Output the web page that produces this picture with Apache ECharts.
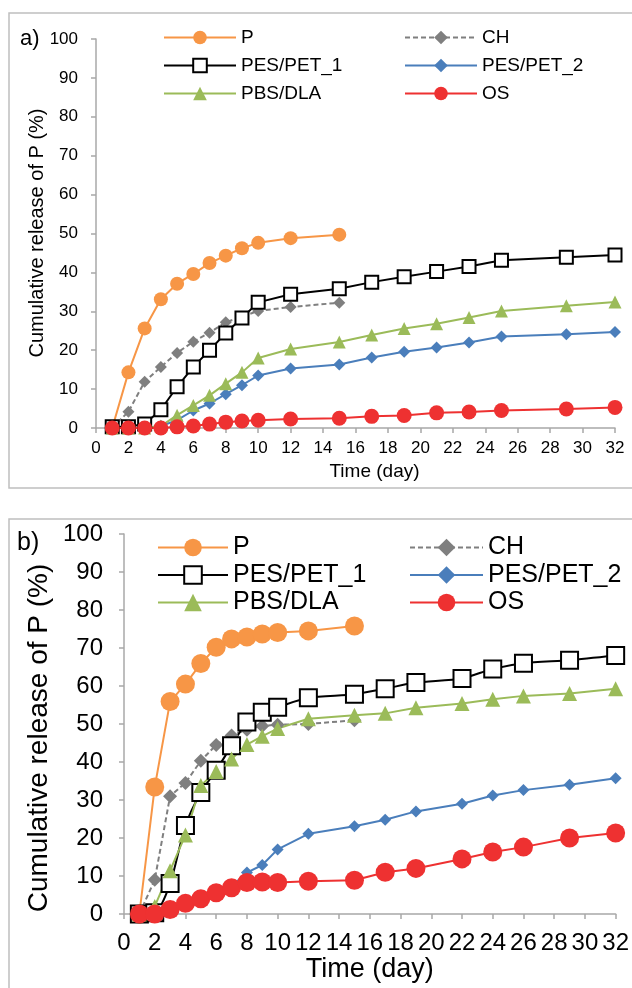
<!DOCTYPE html>
<html>
<head>
<meta charset="utf-8">
<script src="https://cdn.jsdelivr.net/npm/echarts@6/dist/echarts.min.js"></script>
<style>
html, body { margin: 0; padding: 0; background: #fff; }
#chart { width: 632px; height: 988px; }
</style>
</head>
<body>
<div id="chart"></div>
<script>
// sampling days
var daysShort = [1, 2, 3, 4, 5, 6, 7, 8, 9, 10, 12, 15];
var daysLongA = [1, 2, 3, 4, 5, 6, 7, 8, 9, 10, 12, 15, 17, 19, 21, 23, 25, 29, 32];
var daysLongB = [1, 2, 3, 4, 5, 6, 7, 8, 9, 10, 12, 15, 17, 19, 22, 24, 26, 29, 32];
var daysPes2B = [7, 8, 9, 10, 12, 15, 17, 19, 22, 24, 26, 29, 32];

// a) cumulative release (%)
var aP = [0, 14.3, 25.6, 33.1, 37.1, 39.6, 42.4, 44.3, 46.2, 47.6, 48.8, 49.7];
var aCH = [0, 4.2, 11.9, 15.7, 19.3, 22.2, 24.5, 27.2, 28.6, 30.1, 31.1, 32.2];
var aPES1 = [0.3, 0.3, 1.0, 4.7, 10.6, 15.7, 20.0, 24.4, 28.3, 32.3, 34.4, 35.8, 37.5, 38.9, 40.2, 41.5, 43.1, 43.9, 44.5];
var aPES2 = [0, 0, 0, 0.5, 2.0, 4.5, 6.3, 8.7, 11.0, 13.5, 15.3, 16.3, 18.1, 19.6, 20.7, 22.0, 23.5, 24.1, 24.7];
var aPBS = [0, 0, 0, 0.5, 3.3, 5.8, 8.4, 11.4, 14.3, 18.0, 20.3, 22.1, 23.9, 25.6, 26.8, 28.4, 30.1, 31.4, 32.4];
var aOS = [0, 0, 0, 0, 0.3, 0.5, 1.0, 1.5, 1.8, 2.0, 2.3, 2.5, 3.0, 3.2, 3.9, 4.1, 4.5, 4.9, 5.3];

// b) cumulative release (%)
var bP = [0, 33.4, 55.9, 60.5, 65.9, 70.2, 72.4, 72.9, 73.7, 74.1, 74.5, 75.8];
var bCH = [0, 9.0, 31.0, 34.5, 40.3, 44.5, 47.0, 48.5, 49.5, 49.8, 50.0, 51.0];
var bPES1 = [0, 0.3, 8.0, 23.3, 32.0, 37.8, 44.3, 50.5, 53.1, 54.4, 56.9, 57.8, 59.3, 60.9, 62.0, 64.5, 66.0, 66.8, 68.0];
var bPES2 = [7.3, 10.9, 12.9, 17.0, 21.1, 23.1, 24.8, 27.0, 29.0, 31.2, 32.6, 34.0, 35.7];
var bPBS = [0, 2.0, 11.4, 20.8, 33.8, 37.5, 40.8, 44.6, 46.8, 48.8, 51.4, 52.3, 52.8, 54.3, 55.4, 56.5, 57.4, 58.0, 59.3];
var bOS = [0, 0, 1.2, 2.8, 4.0, 5.6, 6.9, 8.3, 8.4, 8.3, 8.6, 8.9, 11.0, 12.0, 14.5, 16.3, 17.6, 20.0, 21.3];

var FONT = 'Liberation Sans, Arial, sans-serif';
var AXIS_GRAY = '#A8A8A8';
var Y_TITLE = 'Cumulative release of P (%)';

var chart = echarts.init(document.getElementById('chart'));

function pairs(xs, ys) {
    return xs.map(function (x, i) { return [x, ys[i]]; });
}

// one line series, style by name
var styles = {
    'P': { color: '#F79646', symbol: 'circle', size: [14, 19] },
    'CH': { color: '#7F7F7F', symbol: 'diamond', size: [12, 14], dashed: true },
    'PES/PET_1': { color: '#000000', symbol: 'rect', size: [13, 17], hollow: true },
    'PES/PET_2': { color: '#4A7EBB', symbol: 'diamond', size: [12, 12] },
    'PBS/DLA': { color: '#9BBB59', symbol: 'triangle', size: [13, 15] },
    'OS': { color: '#EE3131', symbol: 'circle', size: [15, 19] }
};

function makeSeries(name, panel, xs, ys, smooth) {
    var st = styles[name];
    return {
        name: name,
        type: 'line',
        xAxisIndex: panel,
        yAxisIndex: panel,
        data: pairs(xs, ys),
        symbol: st.symbol,
        symbolSize: st.size[panel],
        smooth: smooth || false,
        lineStyle: {
            color: st.color,
            width: 2,
            type: st.dashed ? [5, 3] : 'solid'
        },
        itemStyle: st.hollow
            ? { color: '#ffffff', borderColor: '#000000', borderWidth: 2 }
            : { color: st.color },
        emphasis: { disabled: true },
        z: 2
    };
}

// shift: pushes the axis title to the right (panel a title sits off-centre)
function xAxisFor(panel, fs, margin, nameFs, nameGap, shift) {
    return {
        type: 'value',
        gridIndex: panel,
        min: 0, max: 32, interval: 2,
        name: 'Time (day)',
        nameLocation: 'middle',
        nameGap: nameGap,
        nameTextStyle: { fontFamily: FONT, fontSize: nameFs, color: '#000', padding: [0, 0, 0, shift * 2] },
        axisLine: { show: true, lineStyle: { color: AXIS_GRAY, width: 1.5 } },
        axisTick: { show: true, length: 5, lineStyle: { color: AXIS_GRAY, width: 1.5 } },
        axisLabel: { fontFamily: FONT, fontSize: fs, color: '#000', margin: margin },
        splitLine: { show: false }
    };
}

function yAxisFor(panel, fs, margin) {
    return {
        type: 'value',
        gridIndex: panel,
        min: 0, max: 100, interval: 10,
        axisLine: { show: true, lineStyle: { color: AXIS_GRAY, width: 1.5 } },
        axisTick: { show: true, length: 5, lineStyle: { color: AXIS_GRAY, width: 1.5 } },
        axisLabel: { fontFamily: FONT, fontSize: fs, color: '#000', margin: margin },
        splitLine: { show: false }
    };
}

function legendFor(names, left, top, fs, itemW, itemH, gap) {
    return {
        orient: 'vertical',
        left: left,
        top: top,
        padding: 0,
        itemWidth: itemW,
        itemHeight: itemH,
        itemGap: gap,
        selectedMode: false,
        data: names,
        textStyle: { fontFamily: FONT, fontSize: fs, color: '#000' }
    };
}

// rotated y axis title, centred at (cx, cy)
function yTitle(cx, cy, fs) {
    return {
        type: 'text',
        x: cx, y: cy,
        rotation: Math.PI / 2,
        style: {
            text: Y_TITLE, font: fs + 'px ' + FONT, fill: '#000',
            align: 'center', verticalAlign: 'middle',
            textAlign: 'center', textVerticalAlign: 'middle'
        }
    };
}

var option = {
    animation: false,
    backgroundColor: '#ffffff',
    grid: [
        { left: 96, right: 17, top: 39, bottom: 560 },
        { left: 124, right: 16, top: 534, bottom: 74 }
    ],
    xAxis: [
        xAxisFor(0, 17, 12, 19, 34, 19),
        xAxisFor(1, 24, 17, 27, 42, 0)
    ],
    yAxis: [
        yAxisFor(0, 17, 18),
        yAxisFor(1, 24, 21)
    ],
    legend: [
        legendFor(['P', 'PES/PET_1', 'PBS/DLA'], 163, 28, 19, 72, 17, 9),
        legendFor(['CH', 'PES/PET_2', 'OS'], 404, 28, 19, 72, 17, 9),
        legendFor(['P', 'PES/PET_1', 'PBS/DLA'], 157, 535, 25, 70, 22, 2.5),
        legendFor(['CH', 'PES/PET_2', 'OS'], 409, 535, 25, 73, 22, 2.5)
    ],
    graphic: [
        // panel frames
        { type: 'rect', shape: { x: 9, y: 13, width: 640, height: 475 },
          style: { fill: 'none', stroke: '#BFBFBF', lineWidth: 1.5 }, z: 0 },
        { type: 'rect', shape: { x: 9, y: 519, width: 640, height: 490 },
          style: { fill: 'none', stroke: '#BFBFBF', lineWidth: 1.5 }, z: 0 },
        { type: 'text', left: 20, top: 28,
          style: { text: 'a)', font: '22px ' + FONT, fill: '#000' } },
        { type: 'text', left: 17, top: 531,
          style: { text: 'b)', font: '25px ' + FONT, fill: '#000' } },
        yTitle(37, 233, 20),
        yTitle(39, 738, 28)
    ],
    series: [
        makeSeries('P', 0, daysShort, aP),
        makeSeries('CH', 0, daysShort, aCH),
        makeSeries('PES/PET_1', 0, daysLongA, aPES1),
        makeSeries('PES/PET_2', 0, daysLongA, aPES2),
        makeSeries('PBS/DLA', 0, daysLongA, aPBS),
        makeSeries('OS', 0, daysLongA, aOS),

        makeSeries('P', 1, daysShort, bP),
        makeSeries('CH', 1, daysShort, bCH),
        makeSeries('PES/PET_1', 1, daysLongB, bPES1, 0.25),
        makeSeries('PES/PET_2', 1, daysPes2B, bPES2),
        makeSeries('PBS/DLA', 1, daysLongB, bPBS),
        makeSeries('OS', 1, daysLongB, bOS)
    ]
};

chart.setOption(option);

window.addEventListener('resize', function () {
    chart && chart.resize();
});
</script>
</body>
</html>
